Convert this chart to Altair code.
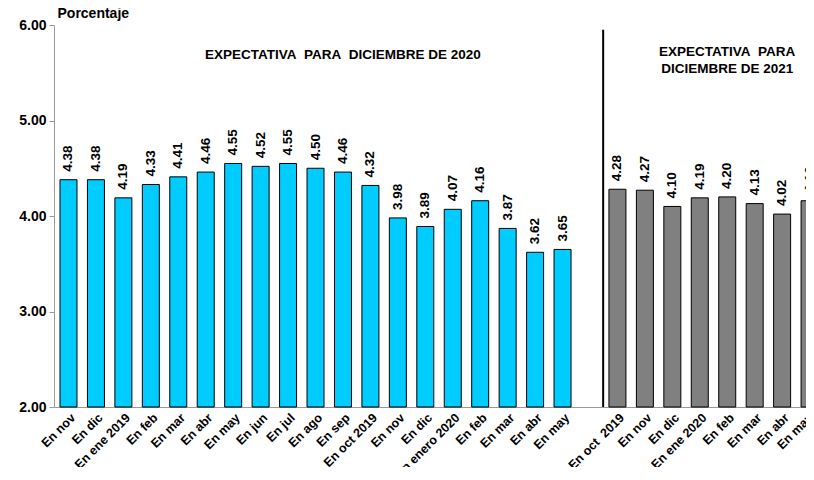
import altair as alt
import pandas as pd

# Data
labels_2020 = ["En nov", "En dic", "En ene 2019", "En feb", "En mar", "En abr", "En may",
               "En jun", "En jul", "En ago", "En sep", "En oct 2019", "En nov", "En dic",
               "En enero 2020", "En feb", "En mar", "En abr", "En may"]
values_2020 = [4.38, 4.38, 4.19, 4.33, 4.41, 4.46, 4.55, 4.52, 4.55, 4.50, 4.46, 4.32,
               3.98, 3.89, 4.07, 4.16, 3.87, 3.62, 3.65]
labels_2021 = ["En oct  2019", "En nov", "En dic", "En ene 2020", "En feb", "En mar",
               "En abr", "En may"]
values_2021 = [4.28, 4.27, 4.10, 4.19, 4.20, 4.13, 4.02, 4.16]
y_ticks = [2, 3, 4, 5, 6]

NB = "\u00a0"
all_labels = labels_2020 + [""] + [s.replace("  ", " " + NB) for s in labels_2021]
n_slots = len(all_labels)
gap_slot = len(labels_2020)

rows = []
for i, (l, v) in enumerate(zip(labels_2020, values_2020)):
    rows.append({"slot": i, "label": l, "value": v, "group": "2020"})
for j, (l, v) in enumerate(zip(labels_2021, values_2021)):
    rows.append({"slot": gap_slot + 1 + j, "label": l, "value": v, "group": "2021"})
df = pd.DataFrame(rows)

label_array = "[" + ",".join("'" + s + "'" for s in all_labels) + "]"
x_max = 26.87
# the last category sits at the clipped right edge: keep its tick inside the domain
tick_slots = [s for s in range(n_slots - 1) if s != gap_slot] + [x_max]

x_scale = alt.Scale(domain=[-0.528, x_max], nice=False, zero=False, padding=0)
x_axis = alt.Axis(title=None, values=tick_slots, labelAngle=-45,
                  labelExpr=label_array + "[round(datum.value)]", labelAlign="right",
                  labelBaseline="top", labelOverlap=False, labelFlush=False,
                  labelSeparation=0, labelBound=False,
                  grid=False, ticks=False, domainColor="#999999", labelFontSize=12.5,
                  labelFontWeight="bold", labelColor="#000000", labelPadding=4)
x_enc = alt.X("slot:Q", scale=x_scale, axis=x_axis)
y_scale = alt.Scale(domain=[2, 6], nice=False, zero=False)
y_axis = alt.Axis(values=y_ticks, format=".2f", grid=False, domainColor="#999999",
                  tickColor="#999999", tickSize=5, labelFontSize=14,
                  labelFontWeight="bold", labelColor="#000000", labelPadding=3,
                  title="Porcentaje", titleAngle=0, titleAlign="left",
                  titleBaseline="bottom", titleX=3, titleY=-5, titleFontSize=14,
                  titleFontWeight="bold", titleColor="#000000")
y_enc = alt.Y("value:Q", scale=y_scale, axis=y_axis)

base = alt.Chart(df)

bars = base.mark_bar(stroke="#000000", strokeWidth=1, width=17).encode(
    x=x_enc,
    y=y_enc,
    y2=alt.datum(2),
    color=alt.Color("group:N", scale=alt.Scale(domain=["2020", "2021"],
                                               range=["#00CCFF", "#808080"]), legend=None),
)

texts = base.mark_text(angle=270, align="left", baseline="middle", dx=8,
                       fontSize=13.5, fontWeight="bold", color="#000000").encode(
    x=x_enc,
    y=y_enc,
    text=alt.Text("value:Q", format=".2f"),
)

ann_df = pd.DataFrame({
    "slot": [10, gap_slot + 5, gap_slot + 5],
    "value": [5.69, 5.72, 5.54],
    "txt": ["EXPECTATIVA" + NB + " PARA" + NB + " DICIEMBRE DE 2020",
            "EXPECTATIVA" + NB + " PARA", "DICIEMBRE DE 2021"],
})
ann = alt.Chart(ann_df).mark_text(fontSize=13.5, fontWeight="bold", color="#000000",
                                  align="center", baseline="middle").encode(
    x=x_enc,
    y=y_enc,
    text="txt:N",
)

sep_df = pd.DataFrame({"slot": [gap_slot + 0.48], "value": [5.95], "bottom": [2.0]})
sep = alt.Chart(sep_df).mark_rule(color="#000000", strokeWidth=2).encode(
    x=x_enc,
    y=y_enc,
    y2="bottom:Q",
)

chart = alt.layer(bars, texts, ann, sep).properties(
    width=752, height=382,
    autosize=alt.AutoSizeParams(type="none"),
    padding={"left": 46, "top": 17, "right": 0, "bottom": 60},
).configure(font="Liberation Sans").configure_view(stroke=None).configure_axisX(
    labelOverlap=False
)

chart.save("out.html", embed_options={"renderer": "svg", "actions": False})
